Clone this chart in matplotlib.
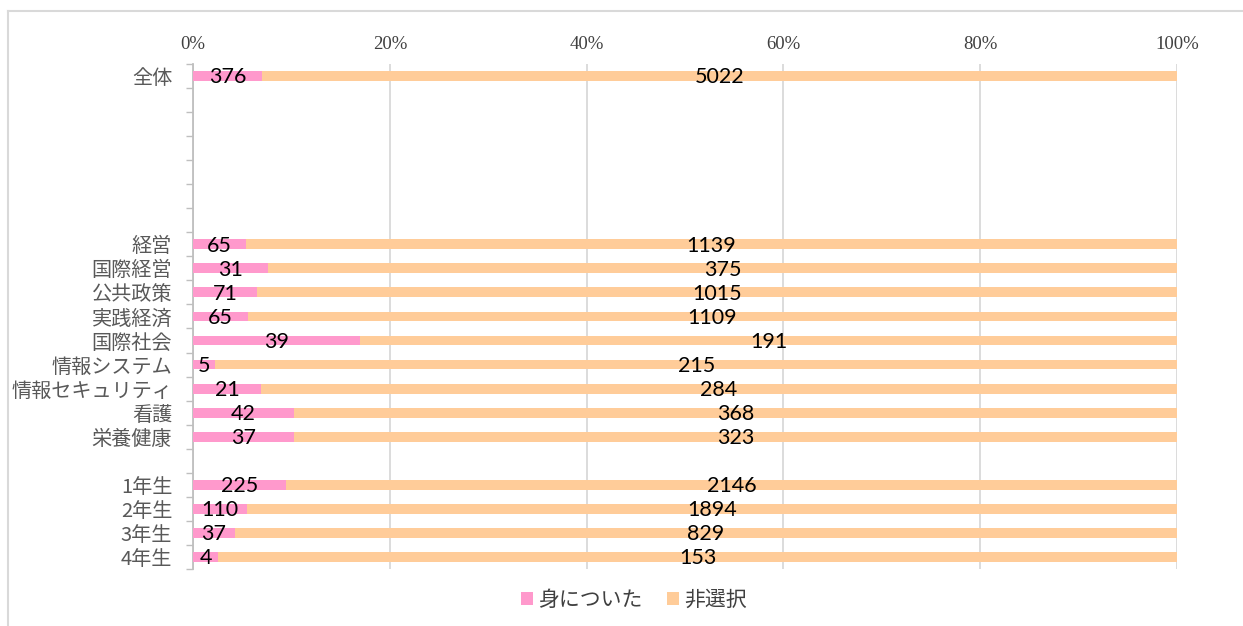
import matplotlib
matplotlib.use('Agg')
import matplotlib.pyplot as plt
from matplotlib.lines import Line2D
import numpy as np

plt.rcParams['font.family'] = ['Noto Sans CJK JP', 'DejaVu Sans']

categories = ['全体', '', '', '', '', '', '',
              '経営', '国際経営', '公共政策', '実践経済', '国際社会', '情報システム',
              '情報セキュリティ', '看護', '栄養健康', '',
              '1年生', '2年生', '3年生', '4年生']
gained = [376, 0, 0, 0, 0, 0, 0,
          65, 31, 71, 65, 39, 5, 21, 42, 37, 0,
          225, 110, 37, 4]
not_selected = [5022, 0, 0, 0, 0, 0, 0,
                1139, 375, 1015, 1109, 191, 215, 284, 368, 323, 0,
                2146, 1894, 829, 153]
series_names = ['身についた', '非選択']
x_ticks = [0, 20, 40, 60, 80, 100]

PINK = '#FF99CC'
ORANGE = '#FFCC99'

fig = plt.figure(figsize=(12.43, 6.26), dpi=100)
ax = fig.add_axes([0.1553, 0.0911, 0.7916, 0.8067])

g = np.array(gained, dtype=float)
n = np.array(not_selected, dtype=float)
tot = g + n
has = tot > 0
pg = np.where(has, g / np.where(has, tot, 1) * 100, 0)
pn = np.where(has, n / np.where(has, tot, 1) * 100, 0)
y = np.arange(len(categories))

ax.barh(y[has], pg[has], height=0.41, color=PINK, label=series_names[0], zorder=3)
ax.barh(y[has], pn[has], left=pg[has], height=0.41, color=ORANGE, label=series_names[1], zorder=3)

for i in y[has]:
    ax.text(pg[i] / 2, i + 0.06, str(gained[i]), ha='center', va='center',
            fontsize=15.5, family='Lato', color='black', zorder=4)
    ax.text(pg[i] + pn[i] / 2, i + 0.06, str(not_selected[i]), ha='center', va='center',
            fontsize=15.5, family='Lato', color='black', zorder=4)

ax.set_ylim(len(categories) - 0.5, -0.5)
ax.set_xlim(0, 100)
ax.set_yticks(y)
ax.set_yticklabels(categories, fontsize=14.5, color='#595959')
ax.set_yticks(np.arange(-0.5, len(categories), 1), minor=True)
ax.tick_params(axis='y', which='major', length=0, pad=15)
ax.tick_params(axis='y', which='minor', length=5, color='#bfbfbf', width=1)

ax.set_xticks(x_ticks)
ax.set_xticklabels([f'{v}%' for v in x_ticks], family='Liberation Serif',
                   fontsize=13.5, color='#404040')
ax.xaxis.tick_top()
ax.tick_params(axis='x', length=0, pad=8)
ax.grid(axis='x', color='#d9d9d9', linewidth=1.3, zorder=0)
ax.set_axisbelow(True)

for s in ['top', 'right', 'bottom']:
    ax.spines[s].set_visible(False)
ax.spines['left'].set_color('#bfbfbf')
ax.spines['left'].set_linewidth(1.3)

fig.legend(loc='center', bbox_to_anchor=(0.51, 0.042), ncol=2, frameon=False,
           fontsize=15, handlelength=0.55, handleheight=0.55, handletextpad=0.25,
           columnspacing=1.2, labelcolor='#404040')

# outer chart frame (cut at right and bottom)
fx = 7.5 / 1243
fy = 1 - 10.5 / 626
fig.add_artist(Line2D([fx, fx], [0, fy], transform=fig.transFigure, color='#d9d9d9', lw=1.5))
fig.add_artist(Line2D([fx, 1], [fy, fy], transform=fig.transFigure, color='#d9d9d9', lw=1.5))

fig.savefig('out.png', dpi=100)
